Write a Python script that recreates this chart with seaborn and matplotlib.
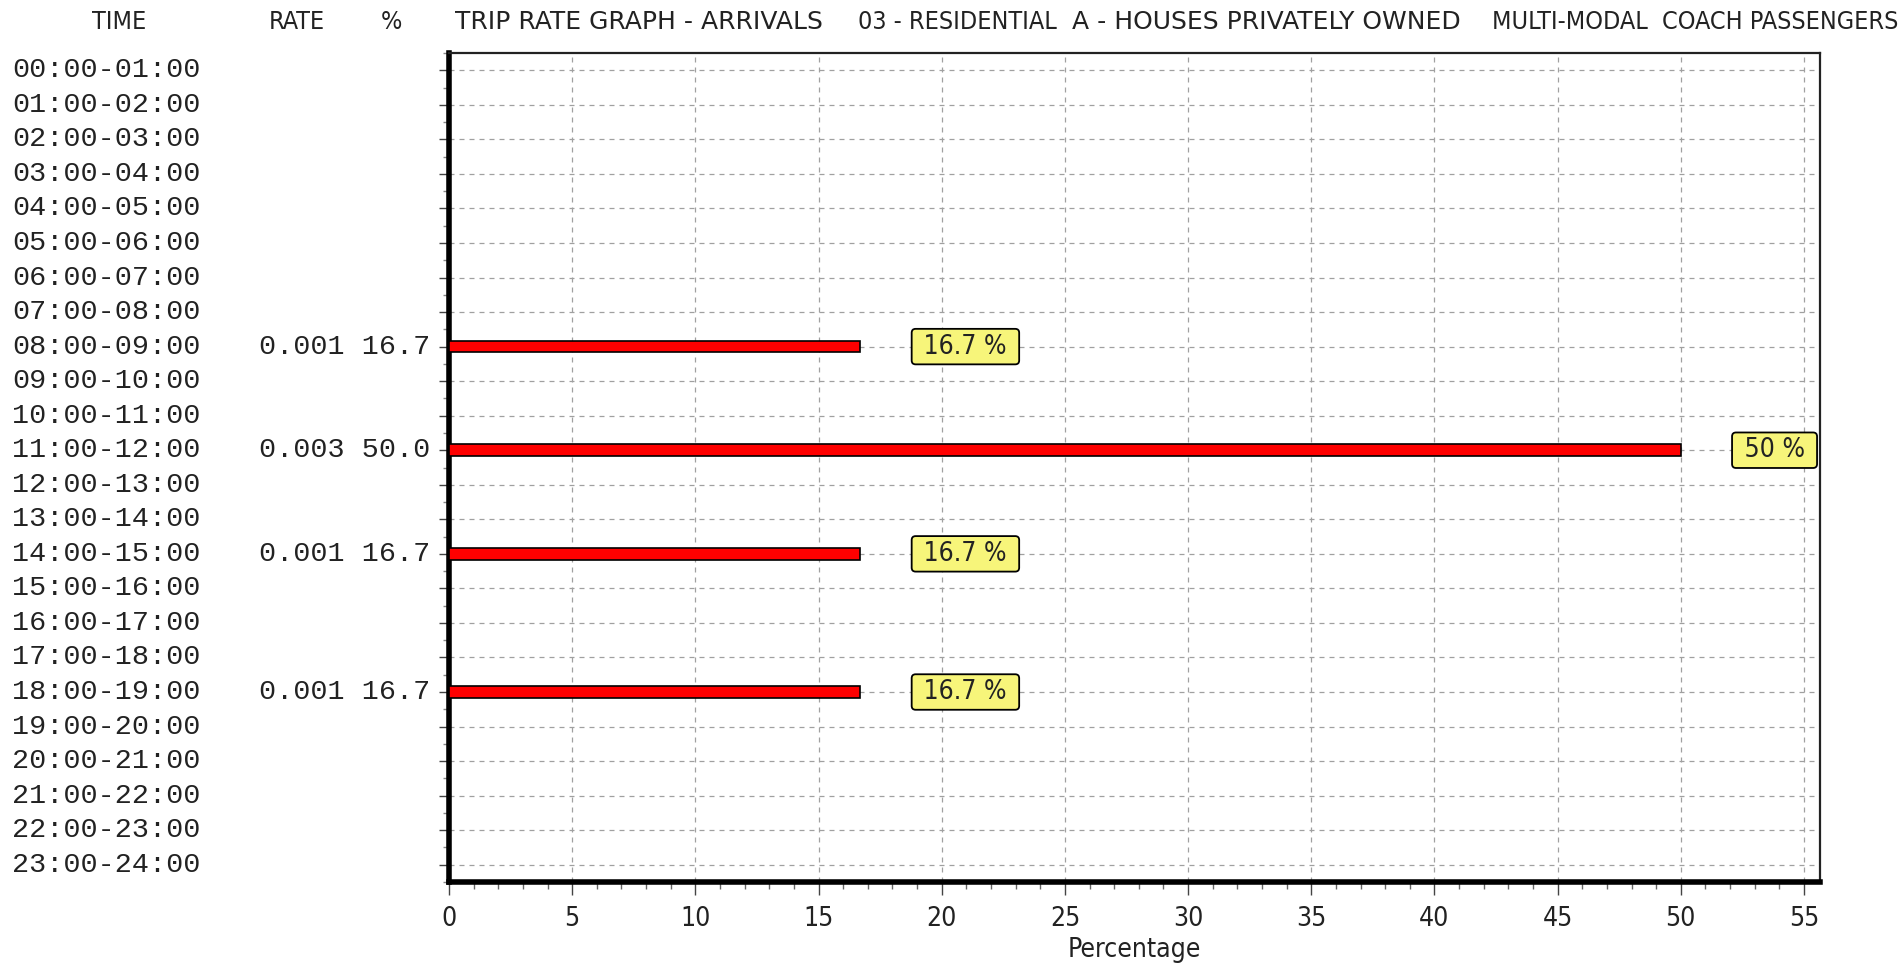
import matplotlib
matplotlib.use("Agg")
import matplotlib.pyplot as plt
import matplotlib.transforms as mtransforms
from matplotlib.ticker import MultipleLocator
import pandas as pd
import seaborn as sns

# --- data ---
hours = [f"{h:02d}:00-{h + 1:02d}:00" for h in range(24)]
percent = [0, 0, 0, 0, 0, 0, 0, 0, 16.7, 0, 0, 50.0, 0, 0, 16.7, 0,
           0, 0, 16.7, 0, 0, 0, 0, 0]
rate = [None, None, None, None, None, None, None, None, 0.001, None, None, 0.003,
        None, None, 0.001, None, None, None, 0.001, None, None, None, None, None]
box_labels = {8: "16.7 %", 11: "50 %", 14: "16.7 %", 18: "16.7 %"}
x_ticks = list(range(0, 56, 5))
# title pieces, the pixel x where each starts, and the font stretch of each
title_parts = ["TRIP RATE GRAPH - ARRIVALS", "03 - RESIDENTIAL",
               "A - HOUSES PRIVATELY OWNED", "MULTI-MODAL  COACH PASSENGERS"]
title_x = [455, 858, 1072, 1492]
title_stretch = ["normal", "condensed", "normal", "condensed"]

df = pd.DataFrame({"hour": hours, "pct": percent})

sns.set_style("white")
plt.rcParams["font.family"] = ["DejaVu Sans"]
plt.rcParams["font.stretch"] = "condensed"

W, H = 1899, 969
fig = plt.figure(figsize=(W / 100, H / 100), dpi=100)
ax = fig.add_axes([449 / W, 1 - 882 / H, (1820 - 449) / W, (882 - 53) / H])

sns.barplot(data=df, x="pct", y="hour", orient="h", order=hours, width=0.34,
            color="#ff0000", edgecolor="black", linewidth=1.2, saturation=1,
            ax=ax, zorder=3)

ax.set_xlim(0, 55.65)
ax.set_ylim(23.45, -0.45)

# grid
ax.xaxis.set_major_locator(MultipleLocator(5))
ax.xaxis.set_minor_locator(MultipleLocator(1))
ax.set_yticks(range(24))
ax.set_yticks([i + 0.5 for i in range(-1, 24)], minor=True)
ax.grid(True, which="major", color="#a0a0a0", linestyle=(0, (4, 4)), linewidth=0.9, zorder=0)
ax.set_axisbelow(True)

ax.set_xticks(x_ticks)
ax.set_xticklabels([str(t) for t in x_ticks], fontsize=19, color="#222222")
ax.set_yticklabels([])
ax.tick_params(axis="both", which="both", bottom=True, left=True)
ax.tick_params(axis="x", which="major", direction="out", length=9, width=1, color="#444444", pad=8)
ax.tick_params(axis="x", which="minor", direction="out", length=5, width=1, color="#666666")
ax.tick_params(axis="y", which="major", direction="out", length=7, width=1, color="#444444")
ax.tick_params(axis="y", which="minor", direction="out", length=4, width=1, color="#888888")
ax.set_ylabel("")
ax.set_xlabel("Percentage", fontsize=19, color="#222222", labelpad=4)

for side in ["left", "bottom"]:
    ax.spines[side].set_linewidth(4)
    ax.spines[side].set_color("black")
for side in ["top", "right"]:
    ax.spines[side].set_linewidth(1.6)
    ax.spines[side].set_color("#222222")

# left columns: time and rate / percent
trans = mtransforms.blended_transform_factory(fig.transFigure, ax.transData)
mono = "Liberation Mono"
for i, h in enumerate(hours):
    ax.text(12 / W, i, h, transform=trans, ha="left", va="center",
            fontsize=20.5, family=mono, fontstretch="normal", color="#222222")
    if rate[i] is not None:
        ax.text(430 / W, i, f"{rate[i]:.3f} {percent[i]:.1f}", transform=trans,
                ha="right", va="center", fontsize=20.5, family=mono,
                fontstretch="normal", color="#222222")

# value boxes
for i, lab in box_labels.items():
    ax.annotate(f" {lab} ", xy=(percent[i], i), xytext=(56, 0), textcoords="offset pixels",
                ha="left", va="center", fontsize=19, color="#222222", zorder=5,
                bbox=dict(boxstyle="round,pad=0.18,rounding_size=0.15",
                          fc="#f7f57a", ec="black", lw=1.3),
                annotation_clip=False)

# header line
hy = 1 - 22 / H
fig.text(119 / W, hy, "TIME", ha="center", va="center", fontsize=18, color="#222222")
fig.text(297 / W, hy, "RATE", ha="center", va="center", fontsize=18, color="#222222")
fig.text(391 / W, hy, "%", ha="center", va="center", fontsize=18, color="#222222")
for part, px, st in zip(title_parts, title_x, title_stretch):
    fig.text(px / W, hy, part, ha="left", va="center", fontsize=18,
             fontstretch=st, color="#222222")

fig.savefig("out.png", dpi=100, facecolor="white")
